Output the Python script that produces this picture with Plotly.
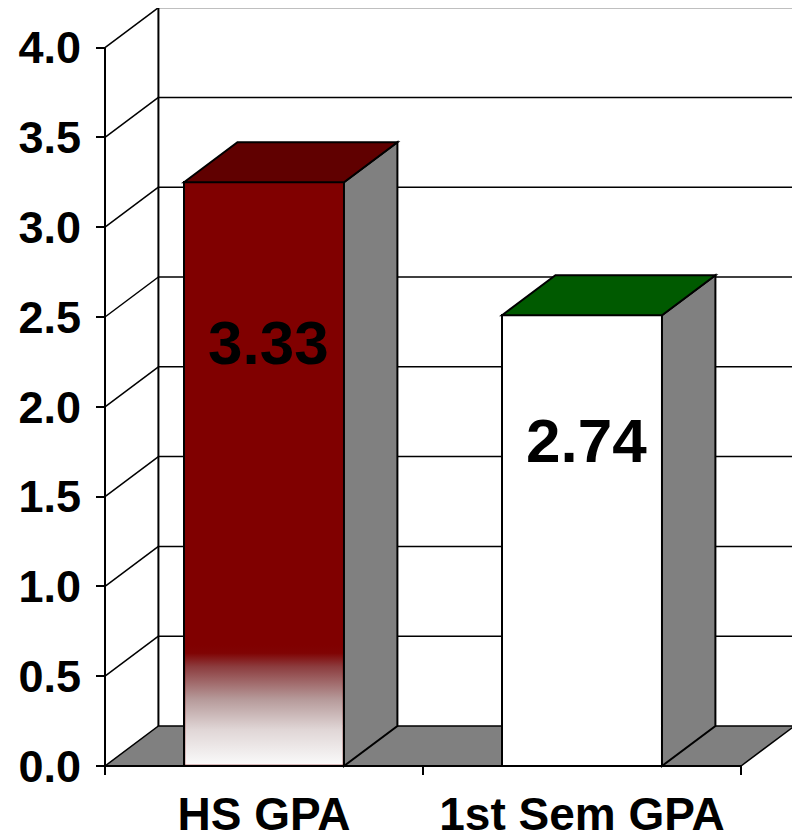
import plotly.graph_objects as go

# ---- data ----
categories = ["HS GPA", "1st Sem GPA"]
bar_heights = [3.25, 2.51]          # drawn heights of the bars
bar_labels = ["3.33", "2.74"]       # text printed on the bars
front_colors = ["#800000", "#ffffff"]
top_colors = ["#600000", "#005a00"]
y_ticks = [0.0, 0.5, 1.0, 1.5, 2.0, 2.5, 3.0, 3.5, 4.0]

# ---- geometry / style ----
FONT = "Liberation Sans, Arial, sans-serif"
W = 0.503          # bar width in category units
DX = 0.168         # depth offset along x (category units)
DY = 0.2227        # depth offset along y (value units)
SIDE = "#808080"
YMAX = 4.0
x0, x1 = -0.5, len(categories) - 0.5

fig = go.Figure()

shapes = []
def poly(pts, fill, layer="below", lw=2, color="black"):
    p = "M " + " L ".join(f"{a},{b}" for a, b in pts) + " Z"
    shapes.append(dict(type="path", path=p, xref="x", yref="y",
                       fillcolor=fill, line=dict(color=color, width=lw), layer=layer))
def line(xa, ya, xb, yb, lw=1.5, layer="below", color="black"):
    shapes.append(dict(type="line", x0=xa, y0=ya, x1=xb, y1=yb, xref="x", yref="y",
                       line=dict(color=color, width=lw), layer=layer))

# floor
poly([(x0, 0), (x0 + DX, DY), (x1 + DX, DY), (x1, 0)], SIDE, lw=1.5)
# back wall verticals
line(x0 + DX, DY, x0 + DX, YMAX + DY, lw=2)
line(x1 + DX, DY, x1 + DX, YMAX + DY, lw=2)
# gridlines on back and side walls
for v in y_ticks[1:]:
    line(x0 + DX, v + DY, x1 + DX, v + DY, lw=1.5)
    line(x0, v, x0 + DX, v + DY, lw=1.5)

# front faces of bars
xs = list(range(len(categories)))
fig.add_trace(go.Bar(x=xs, y=bar_heights, width=W,
                     marker=dict(color=front_colors, line=dict(color="black", width=2)),
                     hoverinfo="skip", showlegend=False))

# gradient at the foot of the first bar
g_top = 0.675
ex, ey = 1.2 / 318, 1.2 / 179.6
fig.add_trace(go.Scatter(
    x=[0 - W / 2 + ex, 0 + W / 2 - ex, 0 + W / 2 - ex, 0 - W / 2 + ex, 0 - W / 2 + ex],
    y=[ey, ey, g_top, g_top, ey], mode="lines", fill="toself",
    line=dict(width=0, color="rgba(0,0,0,0)"),
    fillgradient=dict(type="vertical", start=0, stop=g_top,
                      colorscale=[[0, "#fbfbfb"], [0.05, "#f6f5f5"], [0.3, "#e0d6d6"],
                                  [0.55, "#b69a9a"], [0.82, "#8c3c3e"], [0.93, "#800404"],
                                  [1, "#800000"]]),
    hoverinfo="skip", showlegend=False))

# side and top faces
for i, h in enumerate(bar_heights):
    l, r = i - W / 2, i + W / 2
    poly([(r, 0), (r + DX, DY), (r + DX, h + DY), (r, h)], SIDE, layer="above")
    poly([(l, h), (l + DX, h + DY), (r + DX, h + DY), (r, h)], top_colors[i], layer="above")

# front axes
line(x0, 0, x1, 0, lw=2, layer="above")
line(x0, 0, x0, YMAX, lw=2, layer="above")
# category boundary ticks
for b in [x0 + k for k in range(len(categories) + 1)]:
    line(b, 0, b, -9 / 179.6, lw=2, layer="above")

# value labels on bars
label_offsets = [0.89, 0.70]
annotations = []
for i, (h, t) in enumerate(zip(bar_heights, bar_labels)):
    annotations.append(dict(x=i + 0.014, y=h - label_offsets[i], text=t, showarrow=False,
                            xref="x", yref="y",
                            font=dict(family=FONT, size=62, color="black", weight="bold")))

# ---- layout (page body has an 8px margin, so figure coords = page - 8) ----
FW, FH = 792, 831
AX, AY = 97, 758          # front axis corner in figure coords
L, T, B = 87, 0, 59
pxx, pxy = 318.0, 179.6
xmin = x0 - (AX - L) / pxx
xmax = xmin + (FW - L) / pxx
ymin = -(FH - B - AY) / pxy
ymax = (AY - T) / pxy

fig.update_layout(
    width=FW, height=FH,
    margin=dict(l=L, r=0, t=T, b=B, autoexpand=False),
    paper_bgcolor="white", plot_bgcolor="white",
    shapes=shapes, annotations=annotations,
    xaxis=dict(range=[xmin, xmax], tickvals=xs, ticktext=categories, ticks="",
               showgrid=False, zeroline=False, showline=False, automargin=False,
               ticklabelstandoff=3,
               tickfont=dict(family=FONT, size=46, color="black", weight="bold")),
    yaxis=dict(range=[ymin, ymax], tickvals=y_ticks, tickformat=".1f",
               anchor="free", position=(AX - L) / (FW - L),
               ticks="outside", ticklen=9, tickwidth=2, tickcolor="black",
               showgrid=False, zeroline=False, showline=False, automargin=False,
               ticklabelstandoff=6,
               tickfont=dict(family=FONT, size=45, color="black", weight="bold")),
    bargap=0,
)

fig.write_html("out.html")
